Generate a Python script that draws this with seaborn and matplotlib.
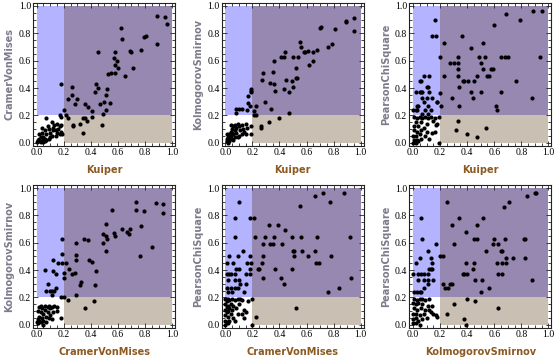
import seaborn as sns
import matplotlib.pyplot as plt
from matplotlib.patches import Rectangle
from matplotlib.ticker import MultipleLocator

# p-values, one pair of lists per panel

# Kuiper vs CramerVonMises
kuiper_cvm_x = [0.89, 0.95, 0.96, 0.89, 0.62, 0.63, 0.81, 0.79, 0.77, 0.69, 0.70, 0.45, 0.58, 0.57, 0.58,
                0.59, 0.60, 0.71, 0.55, 0.53, 0.58, 0.65, 0.18, 0.44, 0.45, 0.26, 0.43, 0.52, 0.51, 0.26,
                0.30, 0.23, 0.50, 0.54, 0.28, 0.36, 0.38, 0.47, 0.20, 0.41, 0.51, 0.49, 0.17, 0.18, 0.22,
                0.23, 0.41, 0.36, 0.34, 0.37, 0.32, 0.27, 0.27, 0.48, 0.34, 0.07,
                0.11, 0.13, 0.15, 0.16, 0.17, 0.18, 0.19, 0.15, 0.12, 0.10, 0.09, 0.06, 0.04, 0.04, 0.07,
                0.05, 0.10, 0.02, 0.01, 0.02, 0.04, 0.05, 0.06, 0.07, 0.09, 0.005, 0.03, 0.045, 0.06, 0.11,
                0.14, 0.17, 0.18, 0.08, 0.03, 0.02, 0.12, 0.14]
kuiper_cvm_y = [0.93, 0.92, 0.87, 0.72, 0.84, 0.76, 0.78, 0.77, 0.68, 0.67, 0.66, 0.66, 0.66, 0.62, 0.57,
                0.60, 0.55, 0.55, 0.51, 0.50, 0.51, 0.49, 0.43, 0.43, 0.40, 0.41, 0.37, 0.39, 0.35, 0.35,
                0.32, 0.32, 0.30, 0.29, 0.28, 0.28, 0.26, 0.28, 0.24, 0.23, 0.24, 0.21, 0.20, 0.19, 0.20,
                0.18, 0.19, 0.18, 0.18, 0.16, 0.14, 0.13, 0.12, 0.13, 0.07, 0.18,
                0.15, 0.13, 0.14, 0.10, 0.12, 0.08, 0.06, 0.07, 0.09, 0.07, 0.10, 0.09, 0.07, 0.11, 0.06,
                0.04, 0.04, 0.03, 0.02, 0.01, 0.01, 0.02, 0.03, 0.02, 0.03, 0.005, 0.005, 0.005, 0.01, 0.05,
                0.05, 0.06, 0.13, 0.12, 0.04, 0.06, 0.11, 0.09]

# Kuiper vs KolmogorovSmirnov
kuiper_ks_x = [0.95, 0.89, 0.89, 0.95, 0.70, 0.71, 0.81, 0.79, 0.76, 0.55, 0.56, 0.58, 0.59, 0.61, 0.65,
               0.68, 0.44, 0.41, 0.43, 0.50, 0.54, 0.36, 0.65, 0.62, 0.52, 0.35, 0.28, 0.27, 0.45, 0.49,
               0.52, 0.53, 0.33, 0.36, 0.43, 0.50, 0.37, 0.47, 0.19, 0.19, 0.19, 0.17, 0.29, 0.17, 0.18,
               0.16, 0.12, 0.10, 0.08, 0.08, 0.21, 0.23, 0.34, 0.21, 0.23, 0.40, 0.47, 0.32, 0.26, 0.26,
               0.19, 0.19,
               0.01, 0.02, 0.02, 0.03, 0.03, 0.04, 0.04, 0.05, 0.05, 0.06, 0.06, 0.07, 0.07, 0.08, 0.08,
               0.09, 0.10, 0.10, 0.11, 0.12, 0.13, 0.14, 0.15, 0.15, 0.16, 0.01, 0.02, 0.03, 0.05, 0.07,
               0.09, 0.12, 0.04, 0.06, 0.015]
kuiper_ks_y = [0.91, 0.89, 0.88, 0.82, 0.84, 0.85, 0.83, 0.72, 0.70, 0.74, 0.70, 0.66, 0.66, 0.67, 0.66,
               0.68, 0.66, 0.63, 0.63, 0.63, 0.63, 0.60, 0.60, 0.57, 0.55, 0.52, 0.51, 0.46, 0.46, 0.45,
               0.47, 0.47, 0.44, 0.43, 0.39, 0.41, 0.38, 0.37, 0.39, 0.38, 0.37, 0.34, 0.30, 0.29, 0.27,
               0.24, 0.25, 0.25, 0.25, 0.22, 0.23, 0.27, 0.25, 0.20, 0.20, 0.18, 0.22, 0.15, 0.12, 0.11,
               0.06, 0.12,
               0.01, 0.02, 0.04, 0.03, 0.06, 0.05, 0.08, 0.07, 0.10, 0.06, 0.12, 0.09, 0.13, 0.11, 0.07,
               0.14, 0.12, 0.05, 0.09, 0.13, 0.10, 0.08, 0.14, 0.06, 0.11, 0.03, 0.00, 0.01, 0.03, 0.04,
               0.04, 0.06, 0.13, 0.02, 0.06]

# Kuiper vs PearsonChiSquare
kuiper_pcs_x = [0.89, 0.95, 0.69, 0.79, 0.60, 0.16, 0.14, 0.17, 0.36, 0.23, 0.52, 0.43, 0.20, 0.33, 0.49,
                0.53, 0.65, 0.68, 0.70, 0.94, 0.30, 0.33, 0.27, 0.50, 0.33, 0.52, 0.58, 0.59, 0.23, 0.33,
                0.55, 0.56, 0.47, 0.37, 0.38, 0.45, 0.41, 0.76, 0.34, 0.43, 0.50, 0.65, 0.29, 0.44, 0.88,
                0.21, 0.34, 0.61, 0.62, 0.33, 0.32, 0.40, 0.54, 0.47, 0.19,
                0.08, 0.12, 0.05, 0.06, 0.02, 0.05, 0.06, 0.11, 0.10, 0.07, 0.07, 0.10, 0.14, 0.12, 0.08,
                0.18, 0.03, 0.04, 0.11, 0.00, 0.02, 0.03, 0.09, 0.13, 0.11, 0.07, 0.20, 0.18,
                0.01, 0.03, 0.05, 0.07, 0.09, 0.11, 0.13, 0.16, 0.19, 0.02, 0.06, 0.10, 0.15, 0.01, 0.04,
                0.08, 0.18, 0.17, 0.01, 0.03, 0.06, 0.10, 0.14, 0.00, 0.02, 0.05, 0.09, 0.01, 0.03, 0.06,
                0.00, 0.02, 0.04, 0.12, 0.16]
kuiper_pcs_y = [0.96, 0.96, 0.94, 0.90, 0.86, 0.90, 0.78, 0.78, 0.78, 0.73, 0.73, 0.69, 0.63, 0.63, 0.63,
                0.63, 0.63, 0.63, 0.63, 0.63, 0.58, 0.58, 0.58, 0.58, 0.54, 0.54, 0.54, 0.54, 0.49, 0.49,
                0.49, 0.49, 0.49, 0.45, 0.45, 0.45, 0.45, 0.45, 0.41, 0.37, 0.37, 0.37, 0.33, 0.33, 0.33,
                0.27, 0.27, 0.27, 0.24, 0.16, 0.09, 0.06, 0.11, 0.04, 0.00,
                0.49, 0.49, 0.45, 0.45, 0.37, 0.37, 0.37, 0.41, 0.41, 0.37, 0.33, 0.33, 0.33, 0.37, 0.30,
                0.30, 0.27, 0.27, 0.27, 0.24, 0.24, 0.24, 0.24, 0.24, 0.21, 0.21, 0.36, 0.30,
                0.19, 0.18, 0.19, 0.18, 0.19, 0.18, 0.19, 0.18, 0.19, 0.15, 0.15, 0.14, 0.16, 0.12, 0.12,
                0.11, 0.14, 0.13, 0.09, 0.08, 0.09, 0.08, 0.07, 0.05, 0.05, 0.06, 0.05, 0.02, 0.02, 0.03,
                0.00, 0.00, 0.01, 0.03, 0.08]

# CramerVonMises vs KolmogorovSmirnov
cvm_ks_x = [0.73, 0.88, 0.93, 0.93, 0.56, 0.73, 0.79, 0.51, 0.63, 0.69, 0.67, 0.68, 0.57, 0.58, 0.49,
            0.51, 0.52, 0.77, 0.35, 0.38, 0.19, 0.29, 0.49, 0.51, 0.85, 0.76, 0.19, 0.29, 0.29, 0.39,
            0.41, 0.12, 0.16, 0.19, 0.22, 0.24, 0.26, 0.28, 0.06, 0.12, 0.14, 0.20, 0.20, 0.44, 0.33,
            0.32, 0.43, 0.08, 0.14, 0.13, 0.07, 0.10, 0.11, 0.11, 0.29, 0.18, 0.20, 0.23, 0.42, 0.36,
            0.18,
            0.01, 0.02, 0.02, 0.03, 0.03, 0.04, 0.04, 0.05, 0.05, 0.06, 0.06, 0.07, 0.08, 0.09, 0.10,
            0.11, 0.13, 0.15, 0.15, 0.08, 0.10, 0.11, 0.01, 0.02, 0.01, 0.00, 0.03, 0.07, 0.05, 0.12,
            0.09]
cvm_ks_y = [0.90, 0.89, 0.88, 0.82, 0.84, 0.84, 0.83, 0.74, 0.70, 0.70, 0.68, 0.66, 0.67, 0.65, 0.66,
            0.65, 0.63, 0.72, 0.63, 0.62, 0.63, 0.60, 0.60, 0.54, 0.57, 0.50, 0.52, 0.51, 0.47, 0.47,
            0.46, 0.47, 0.45, 0.45, 0.45, 0.41, 0.37, 0.38, 0.40, 0.39, 0.37, 0.38, 0.34, 0.39, 0.31,
            0.29, 0.29, 0.30, 0.27, 0.25, 0.25, 0.25, 0.25, 0.22, 0.22, 0.20, 0.20, 0.18, 0.17, 0.12,
            0.05,
            0.01, 0.03, 0.06, 0.02, 0.09, 0.05, 0.12, 0.08, 0.03, 0.11, 0.14, 0.06, 0.13, 0.14, 0.12,
            0.13, 0.14, 0.13, 0.10, 0.09, 0.07, 0.04, 0.10, 0.13, 0.04, 0.02, 0.14, 0.02, 0.00, 0.09,
            0.05]

# CramerVonMises vs PearsonChiSquare
cvm_pcs_x = [0.72, 0.88, 0.66, 0.10, 0.77, 0.55, 0.18, 0.21, 0.07, 0.32, 0.39, 0.44, 0.07, 0.22, 0.29,
             0.36, 0.49, 0.56, 0.68, 0.92, 0.28, 0.33, 0.35, 0.42, 0.13, 0.50, 0.51, 0.66, 0.57, 0.28,
             0.51, 0.61, 0.78, 0.18, 0.03, 0.09, 0.27, 0.67, 0.69, 0.01, 0.06, 0.16, 0.19, 0.24, 0.25,
             0.37, 0.49, 0.08, 0.10, 0.18, 0.01, 0.03, 0.04, 0.07, 0.15, 0.18, 0.28, 0.41, 0.93, 0.43,
             0.02, 0.07, 0.10, 0.11, 0.15, 0.01, 0.04, 0.07, 0.09, 0.84, 0.76, 0.05, 0.14, 0.02, 0.20,
             0.52, 0.23, 0.20,
             0.00, 0.01, 0.02, 0.03, 0.05, 0.07, 0.09, 0.12, 0.00, 0.01, 0.02, 0.04, 0.06, 0.10, 0.00,
             0.01, 0.02, 0.03, 0.05, 0.08, 0.14, 0.15, 0.00, 0.02, 0.04, 0.06, 0.09, 0.12, 0.14, 0.00,
             0.01, 0.03, 0.07, 0.00, 0.02, 0.17, 0.11]
cvm_pcs_y = [0.96, 0.96, 0.94, 0.90, 0.90, 0.87, 0.78, 0.78, 0.78, 0.73, 0.73, 0.69, 0.64, 0.64, 0.64,
             0.64, 0.64, 0.64, 0.64, 0.64, 0.59, 0.59, 0.59, 0.59, 0.54, 0.54, 0.54, 0.54, 0.54, 0.50,
             0.50, 0.50, 0.50, 0.50, 0.50, 0.50, 0.45, 0.45, 0.45, 0.45, 0.45, 0.45, 0.45, 0.41, 0.41,
             0.41, 0.41, 0.41, 0.41, 0.41, 0.37, 0.37, 0.37, 0.37, 0.37, 0.37, 0.34, 0.34, 0.34, 0.30,
             0.33, 0.33, 0.33, 0.30, 0.30, 0.27, 0.27, 0.27, 0.27, 0.27, 0.24, 0.24, 0.24, 0.24, 0.19,
             0.12, 0.06, 0.00,
             0.19, 0.17, 0.19, 0.18, 0.19, 0.18, 0.19, 0.18, 0.15, 0.13, 0.14, 0.15, 0.14, 0.15, 0.11,
             0.09, 0.10, 0.12, 0.11, 0.12, 0.11, 0.09, 0.07, 0.06, 0.08, 0.05, 0.08, 0.08, 0.05, 0.03,
             0.02, 0.03, 0.03, 0.00, 0.01, 0.17, 0.19]

# KolmogorovSmirnov vs PearsonChiSquare
ks_pcs_x = [0.90, 0.91, 0.84, 0.25, 0.71, 0.67, 0.34, 0.52, 0.06, 0.29, 0.47, 0.39, 0.07, 0.45, 0.47,
            0.60, 0.68, 0.82, 0.83, 0.17, 0.30, 0.59, 0.63, 0.11, 0.54, 0.65, 0.66, 0.05, 0.13, 0.20,
            0.22, 0.69, 0.74, 0.83, 0.02, 0.14, 0.39, 0.45, 0.62, 0.66, 0.69, 0.12, 0.13, 0.14, 0.44,
            0.06, 0.04, 0.08, 0.00, 0.11, 0.37, 0.38, 0.40, 0.63, 0.66, 0.04, 0.08, 0.11, 0.15, 0.46,
            0.51, 0.88, 0.11, 0.22, 0.27, 0.29, 0.08, 0.24, 0.26, 0.56, 0.01, 0.03, 0.05, 0.06, 0.50,
            0.40, 0.30, 0.46, 0.63, 0.25, 0.38, 0.39, 0.18,
            0.01, 0.03, 0.05, 0.07, 0.09, 0.12, 0.00, 0.02, 0.04, 0.07, 0.11, 0.14, 0.01, 0.03, 0.06,
            0.09, 0.12, 0.00, 0.02, 0.05, 0.08, 0.13, 0.15, 0.00, 0.02, 0.04, 0.07, 0.10, 0.00, 0.02,
            0.05, 0.17]
ks_pcs_y = [0.96, 0.96, 0.94, 0.90, 0.90, 0.86, 0.78, 0.78, 0.78, 0.73, 0.73, 0.68, 0.63, 0.63, 0.63,
            0.63, 0.63, 0.63, 0.63, 0.59, 0.59, 0.59, 0.59, 0.54, 0.54, 0.54, 0.54, 0.49, 0.49, 0.50,
            0.50, 0.49, 0.49, 0.49, 0.45, 0.45, 0.45, 0.45, 0.45, 0.45, 0.45, 0.41, 0.41, 0.41, 0.41,
            0.37, 0.37, 0.37, 0.37, 0.37, 0.37, 0.37, 0.37, 0.37, 0.37, 0.33, 0.33, 0.33, 0.33, 0.33,
            0.33, 0.33, 0.30, 0.30, 0.30, 0.30, 0.27, 0.27, 0.27, 0.27, 0.24, 0.24, 0.24, 0.24, 0.24,
            0.19, 0.15, 0.17, 0.12, 0.08, 0.04, 0.00, 0.06,
            0.19, 0.18, 0.19, 0.19, 0.18, 0.19, 0.16, 0.15, 0.16, 0.15, 0.14, 0.14, 0.12, 0.11, 0.12,
            0.11, 0.11, 0.08, 0.08, 0.07, 0.08, 0.09, 0.08, 0.04, 0.05, 0.03, 0.04, 0.05, 0.01, 0.01,
            0.00, 0.07]

panels = [
    (kuiper_cvm_x, kuiper_cvm_y, "Kuiper", "CramerVonMises"),
    (kuiper_ks_x, kuiper_ks_y, "Kuiper", "KolmogorovSmirnov"),
    (kuiper_pcs_x, kuiper_pcs_y, "Kuiper", "PearsonChiSquare"),
    (cvm_ks_x, cvm_ks_y, "CramerVonMises", "KolmogorovSmirnov"),
    (cvm_pcs_x, cvm_pcs_y, "CramerVonMises", "PearsonChiSquare"),
    (ks_pcs_x, ks_pcs_y, "KolmogorovSmirnov", "PearsonChiSquare"),
]

cutoff = 0.2
blue = "#b3b3ff"
purple = "#9788b1"
tan = "#c9bfb2"
xlabel_color = "#8c5a22"
ylabel_color = "#7b7b8c"

sns.set_style("white")

fig = plt.figure(figsize=(5.56, 3.62), dpi=100)

lefts = [0.0594, 0.3987, 0.7362]
bottoms = [0.5975, 0.0947]
w, h = 0.2554, 0.395

for i, (xs, ys, xl, yl) in enumerate(panels):
    ax = fig.add_axes([lefts[i % 3], bottoms[i // 3], w, h])

    # shaded regions: above cutoff in y only, in both, in x only
    ax.add_patch(Rectangle((0, cutoff), cutoff, 1 - cutoff, color=blue, lw=0, zorder=0))
    ax.add_patch(Rectangle((cutoff, cutoff), 1 - cutoff, 1 - cutoff, color=purple, lw=0, zorder=0))
    ax.add_patch(Rectangle((cutoff, 0), 1 - cutoff, cutoff, color=tan, lw=0, zorder=0))

    sns.scatterplot(x=xs, y=ys, ax=ax, color="black", s=9, linewidth=0, zorder=3)

    ax.set_xlim(-0.027, 1.022)
    ax.set_ylim(-0.022, 1.024)
    ax.xaxis.set_major_locator(MultipleLocator(0.2))
    ax.yaxis.set_major_locator(MultipleLocator(0.2))
    ax.xaxis.set_minor_locator(MultipleLocator(0.05))
    ax.yaxis.set_minor_locator(MultipleLocator(0.05))
    ax.xaxis.set_major_formatter(lambda v, p: f"{v:.1f}")
    ax.yaxis.set_major_formatter(lambda v, p: f"{v:.1f}")
    ax.tick_params(which="both", direction="in", top=True, right=True, bottom=True, left=True,
                   width=0.6, colors="#222222", labelcolor="black")
    ax.tick_params(which="major", length=3.5, labelsize=7, pad=1.5,
                   labelfontfamily="Liberation Serif")
    ax.tick_params(which="minor", length=2)
    for sp in ax.spines.values():
        sp.set_color("#222222")
        sp.set_linewidth(0.8)

    ax.set_xlabel(xl, fontsize=7, fontweight="bold", color=xlabel_color, labelpad=6)
    ax.set_ylabel(yl, fontsize=7, fontweight="bold", color=ylabel_color, labelpad=3)

fig.savefig("out.png", dpi=100)
